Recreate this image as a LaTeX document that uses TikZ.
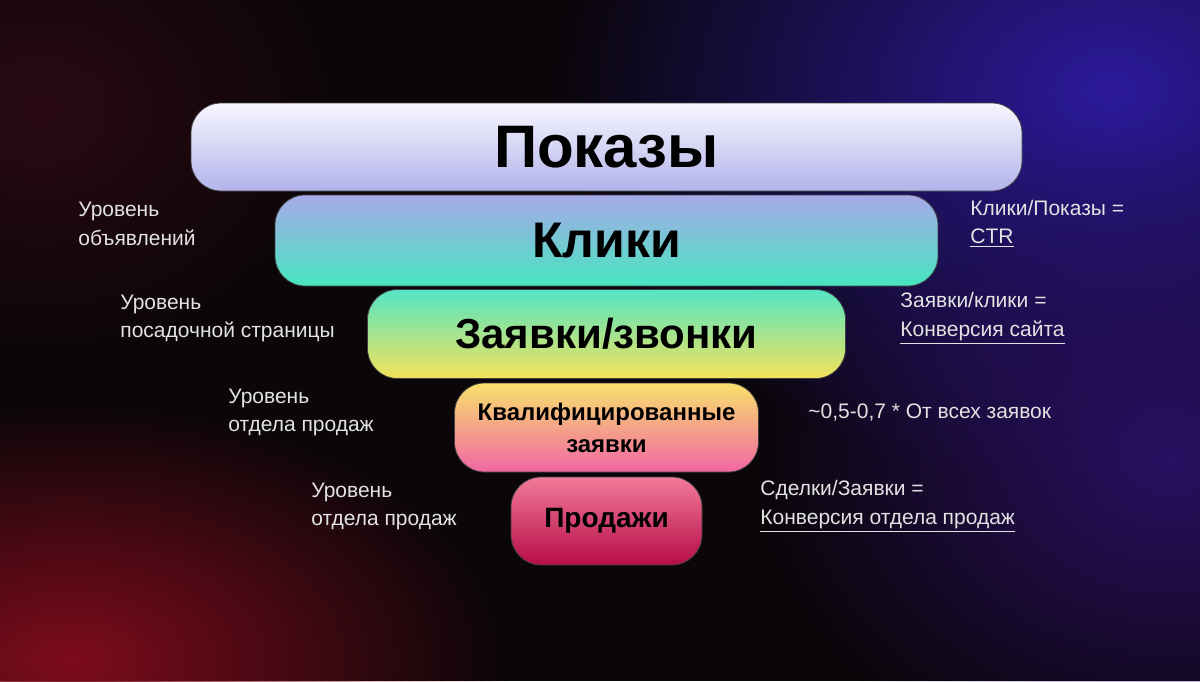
\documentclass[tikz,border=0pt]{standalone}
\usepackage{fontspec}
\setmainfont{Liberation Sans}
\usetikzlibrary{shapes,fadings}
\definecolor{bgdark}{HTML}{0A0609}
\definecolor{glowblue}{HTML}{2C1A9C}
\definecolor{glowviolet}{HTML}{2A1062}
\definecolor{glowred}{HTML}{7E0C1C}
\definecolor{glowwine}{HTML}{2A0A12}
\definecolor{notegray}{HTML}{E2E2E2}
\definecolor{pokaz-top}{HTML}{F7F7FF}
\definecolor{pokaz-bot}{HTML}{B2B3EA}
\definecolor{klik-top}{HTML}{A7A9E9}
\definecolor{klik-bot}{HTML}{46E6C0}
\definecolor{zayav-top}{HTML}{55E4C4}
\definecolor{zayav-bot}{HTML}{F4E35A}
\definecolor{kval-top}{HTML}{F8E16C}
\definecolor{kval-bot}{HTML}{F266A4}
\definecolor{prod-top}{HTML}{F27A9A}
\definecolor{prod-bot}{HTML}{B60C46}
\tikzstyle{stage} = [draw=black!75, line width=0.4pt, rectangle, rounded corners=15pt, text centered, text=black, inner sep=0pt]
\tikzstyle{note} = [text=notegray, font=\fontsize{10.5}{14.3}\selectfont, align=left, inner sep=0pt, anchor=west]
\tikzfading[name=glow, inner color=transparent!0, outer color=transparent!100]
\pgfdeclarelayer{background}
\pgfsetlayers{background,main}

\begin{document}
\begin{tikzpicture}[x=0.5pt, y=-0.5pt, node distance=46.75pt]
    \useasboundingbox (0,0) rectangle (1200,681);

    % Place nodes
    \node [stage, minimum width=415.5pt, minimum height=44pt, top color=pokaz-top, bottom color=pokaz-bot, font=\bfseries\fontsize{30}{36}\selectfont] (pokazy) at (606.5,147) {Показы};
    \node [stage, below of=pokazy, minimum width=331.5pt, minimum height=45.5pt, top color=klik-top, bottom color=klik-bot, font=\bfseries\fontsize{25}{30}\selectfont] (kliki) {Клики};
    \node [stage, below of=kliki, minimum width=239pt, minimum height=44.5pt, top color=zayav-top, bottom color=zayav-bot, font=\bfseries\fontsize{21}{25}\selectfont] (zayavki) {Заявки/звонки};
    \node [stage, below of=zayavki, minimum width=152pt, minimum height=44.5pt, top color=kval-top, bottom color=kval-bot, align=center, font=\bfseries\fontsize{12}{16}\selectfont] (kval) {Квалифицированные\\заявки};
    \node [stage, below of=kval, minimum width=95.5pt, minimum height=44pt, top color=prod-top, bottom color=prod-bot, font=\bfseries\fontsize{14}{17}\selectfont] (prodazhi) {Продажи};

    % Level labels on the left
    \node [note] (lvl-ads) at (78,224) {Уровень\\объявлений};
    \node [note] (lvl-page) at (120,318.5) {Уровень\\посадочной страницы};
    \node [note] (lvl-sales1) at (228,412.5) {Уровень\\отдела продаж};
    \node [note] (lvl-sales2) at (311,506.5) {Уровень\\отдела продаж};

    % Ratio labels on the right
    \node [note] (ctr) at (970,224) {Клики/Показы =\\\underline{CTR}};
    \node [note] (conv-site) at (900,318.5) {Заявки/клики =\\\underline{Конверсия сайта}};
    \node [note] (share) at (808,412.5) {\textasciitilde 0,5-0,7 * От всех заявок};
    \node [note] (conv-sales) at (760,506.5) {Сделки/Заявки =\\\underline{Конверсия отдела продаж}};

    % Dark background with coloured glows behind the funnel
    \begin{pgfonlayer}{background}
      \fill[bgdark] (0,0) rectangle (1200,681);
      \fill[glowblue, path fading=glow] (1110,90) ellipse [x radius=560, y radius=400];
      \fill[glowviolet, path fading=glow] (1170,460) ellipse [x radius=420, y radius=330];
      \fill[glowred, path fading=glow] (70,660) ellipse [x radius=440, y radius=260];
      \fill[glowwine, path fading=glow] (40,110) ellipse [x radius=320, y radius=260];
    \end{pgfonlayer}
\end{tikzpicture}
\end{document}
